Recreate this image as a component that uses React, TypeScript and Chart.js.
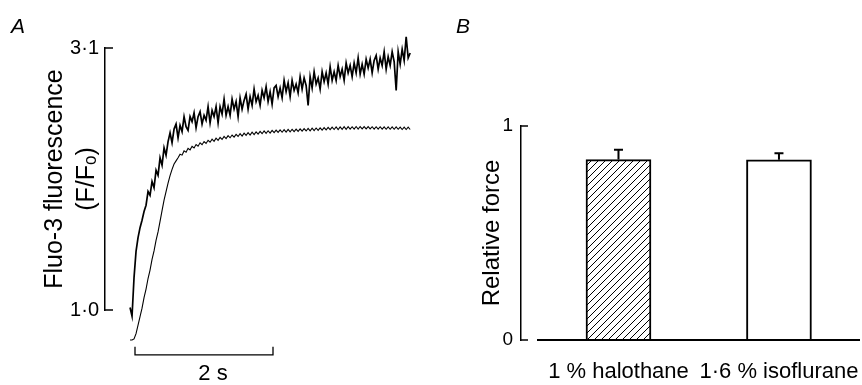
import React, { useEffect, useRef } from "react";
import { Chart, registerables } from "chart.js";

Chart.register(...registerables);

const FONT = "'Liberation Sans', Arial, Helvetica, sans-serif";

// ---------- Panel A : Fluo-3 fluorescence and force traces ----------
const PANEL_A_LETTER = "A";
const FLUO_TITLE = ["Fluo-3 fluorescence", "(F/F\u2092)"];
const FLUO_TICKS = [1.0, 3.1];
const FLUO_TICK_LABELS = ["1\u00b70", "3\u00b71"];
const SAMPLE_T0 = -0.072; // s, first sample
const SAMPLE_DT = 0.029; // s, sample interval
const FLUO = [
  1.02, 0.95, 1.26, 1.47, 1.58, 1.66, 1.72, 1.79, 1.84, 1.95,
  1.92, 2.03, 1.98, 2.12, 2.08, 2.22, 2.16, 2.3, 2.24, 2.35,
  2.42, 2.34, 2.45, 2.49, 2.38, 2.48, 2.43, 2.55, 2.47, 2.44,
  2.55, 2.51, 2.58, 2.46, 2.55, 2.59, 2.49, 2.56, 2.52, 2.63,
  2.5, 2.6, 2.55, 2.63, 2.5, 2.63, 2.57, 2.69, 2.56, 2.63,
  2.56, 2.69, 2.61, 2.67, 2.55, 2.7, 2.61, 2.68, 2.73, 2.61,
  2.71, 2.64, 2.77, 2.67, 2.72, 2.64, 2.76, 2.7, 2.79, 2.67,
  2.75, 2.65, 2.78, 2.8, 2.71, 2.78, 2.7, 2.84, 2.75, 2.82,
  2.71, 2.84, 2.76, 2.81, 2.74, 2.87, 2.77, 2.86, 2.8, 2.64,
  2.87, 2.78, 2.91, 2.81, 2.86, 2.77, 2.91, 2.83, 2.9, 2.81,
  2.95, 2.84, 2.91, 2.84, 2.96, 2.87, 2.93, 2.84, 2.98, 2.9,
  2.96, 2.87, 2.98, 2.9, 3.02, 2.89, 2.97, 2.89, 3.01, 2.94,
  3.01, 2.9, 3.0, 3.04, 2.93, 3.02, 2.96, 3.07, 2.93, 3.03,
  2.96, 3.07, 2.99, 2.76, 3.07, 2.97, 3.09, 3.0, 3.19, 3.02,
  3.06,
];
// force, normalised to the plateau (no axis drawn)
const FORCE = [
  0, 0, 0.005, 0.03, 0.07, 0.11, 0.15, 0.2, 0.24, 0.29,
  0.33, 0.38, 0.42, 0.47, 0.51, 0.56, 0.61, 0.66, 0.7, 0.74,
  0.775, 0.805, 0.83, 0.845, 0.86, 0.876, 0.872, 0.892, 0.886, 0.904,
  0.897, 0.914, 0.906, 0.922, 0.914, 0.93, 0.921, 0.936, 0.927, 0.942,
  0.933, 0.947, 0.937, 0.952, 0.942, 0.956, 0.946, 0.96, 0.95, 0.964,
  0.954, 0.967, 0.957, 0.97, 0.96, 0.973, 0.962, 0.976, 0.965, 0.978,
  0.967, 0.98, 0.969, 0.982, 0.971, 0.984, 0.973, 0.986, 0.975, 0.987,
  0.976, 0.989, 0.978, 0.99, 0.979, 0.991, 0.98, 0.992, 0.981, 0.993,
  0.982, 0.994, 0.983, 0.995, 0.984, 0.996, 0.985, 0.997, 0.986, 0.998,
  0.987, 0.999, 0.988, 1.0, 0.989, 1.001, 0.99, 1.002, 0.991, 1.003,
  0.992, 1.004, 0.993, 1.005, 0.993, 1.005, 0.994, 1.006, 0.994, 1.006,
  0.995, 1.006, 0.995, 1.007, 0.995, 1.007, 0.996, 1.007, 0.996, 1.007,
  0.996, 1.006, 0.995, 1.006, 0.995, 1.006, 0.995, 1.005, 0.994, 1.005,
  0.994, 1.005, 0.994, 1.005, 0.994, 1.004, 0.993, 1.004, 0.993, 1.004,
  0.993,
];
const TIME_BAR_T = [0, 2]; // s
const TIME_BAR_LEVEL = 0.64; // drawn below the trace, in fluorescence units
const TIME_BAR_TICK = 0.705;
const TIME_BAR_LABEL = "2 s";
const TIME_BAR_LABEL_T = 1.13;

// ---------- Panel B : relative force bars ----------
const PANEL_B_LETTER = "B";
const CATEGORIES = ["1 % halothane", "1\u00b76 % isoflurane"];
const BAR_POSITIONS = [1, 2];
const REL_FORCE = [0.843, 0.842];
const REL_FORCE_SEM = [0.046, 0.031];
const FORCE_TICKS = [0, 1];
const FORCE_TICK_LABELS = ["0", "1"];
const FORCE_TITLE = "Relative force";

function makeHatch(): CanvasPattern | string {
  const c = document.createElement("canvas");
  c.width = 7;
  c.height = 7;
  const g = c.getContext("2d");
  if (!g) return "#fff";
  g.fillStyle = "#fff";
  g.fillRect(0, 0, 7, 7);
  g.strokeStyle = "#000";
  g.lineWidth = 1;
  g.beginPath();
  g.moveTo(0, 7);
  g.lineTo(7, 0);
  g.moveTo(-1, 1);
  g.lineTo(1, -1);
  g.moveTo(6, 8);
  g.lineTo(8, 6);
  g.stroke();
  return g.createPattern(c, "repeat") || "#fff";
}

const panelAPlugin = {
  id: "panelA",
  afterDraw(chart: any) {
    const { ctx, chartArea, scales } = chart;
    const x = scales.x;
    const y = scales.y;
    ctx.save();
    ctx.strokeStyle = "#000";
    ctx.lineWidth = 1.5;
    FLUO_TICKS.forEach((v) => {
      const py = y.getPixelForValue(v);
      ctx.beginPath();
      ctx.moveTo(chartArea.left, py);
      ctx.lineTo(chartArea.left + 8, py);
      ctx.stroke();
    });
    ctx.fillStyle = "#000";
    ctx.font = `22px ${FONT}`;
    ctx.textAlign = "center";
    ctx.textBaseline = "alphabetic";
    ctx.fillText(TIME_BAR_LABEL, x.getPixelForValue(TIME_BAR_LABEL_T), chartArea.bottom + 70);
    ctx.font = `italic 21px ${FONT}`;
    ctx.textAlign = "left";
    ctx.fillText(PANEL_A_LETTER, 11, 33);
    ctx.restore();
  },
};

const panelBPlugin = {
  id: "panelB",
  afterDatasetsDraw(chart: any) {
    const { ctx, chartArea, scales } = chart;
    const x = scales.x;
    const y = scales.y;
    ctx.save();
    ctx.strokeStyle = "#000";
    ctx.lineWidth = 2;
    REL_FORCE.forEach((v, i) => {
      const px = x.getPixelForValue(BAR_POSITIONS[i]);
      const top = y.getPixelForValue(v + REL_FORCE_SEM[i]);
      const bot = y.getPixelForValue(v);
      ctx.beginPath();
      ctx.moveTo(px, bot);
      ctx.lineTo(px, top);
      ctx.moveTo(px - 4.5, top);
      ctx.lineTo(px + 4.5, top);
      ctx.stroke();
    });
    const y0 = y.getPixelForValue(0);
    ctx.beginPath();
    ctx.moveTo(chartArea.left + 16, y0);
    ctx.lineTo(chartArea.right, y0);
    ctx.stroke();
    ctx.lineWidth = 1.5;
    FORCE_TICKS.forEach((v) => {
      const py = y.getPixelForValue(v);
      ctx.beginPath();
      ctx.moveTo(chartArea.left, py);
      ctx.lineTo(chartArea.left + 7, py);
      ctx.stroke();
    });
    ctx.fillStyle = "#000";
    ctx.font = `italic 21px ${FONT}`;
    ctx.textAlign = "left";
    ctx.textBaseline = "alphabetic";
    ctx.fillText(PANEL_B_LETTER, 26, 33);
    ctx.restore();
  },
};

export default function App() {
  const refA = useRef<HTMLCanvasElement>(null);
  const refB = useRef<HTMLCanvasElement>(null);

  useEffect(() => {
    if (!refA.current || !refB.current) return;
    Chart.defaults.font.family = FONT;
    Chart.defaults.color = "#000";

    const fluoPts = FLUO.map((v, i) => ({ x: SAMPLE_T0 + i * SAMPLE_DT, y: v }));
    const forcePts = FORCE.map((v, i) => ({ x: SAMPLE_T0 + i * SAMPLE_DT, y: v }));
    const barPts = [
      { x: TIME_BAR_T[0], y: TIME_BAR_TICK },
      { x: TIME_BAR_T[0], y: TIME_BAR_LEVEL },
      { x: TIME_BAR_T[1], y: TIME_BAR_LEVEL },
      { x: TIME_BAR_T[1], y: TIME_BAR_TICK },
    ];

    const chartA = new Chart(refA.current, {
      type: "line",
      data: {
        datasets: [
          { data: fluoPts, borderColor: "#000", borderWidth: 1.7, pointRadius: 0, clip: false, yAxisID: "y" } as any,
          { data: forcePts, borderColor: "#000", borderWidth: 1.1, pointRadius: 0, clip: false, yAxisID: "yF" } as any,
          { data: barPts, borderColor: "#000", borderWidth: 1.3, pointRadius: 0, clip: false, yAxisID: "y" } as any,
        ],
      },
      options: {
        animation: false,
        responsive: false,
        events: [],
        layout: { padding: { top: 48, bottom: 75, right: 18, left: 0 } },
        plugins: { legend: { display: false }, tooltip: { enabled: false } },
        elements: { line: { tension: 0 } },
        scales: {
          x: { type: "linear", min: -0.4348, max: 4.0145, display: false },
          y: {
            type: "linear",
            position: "left",
            min: 1.0,
            max: 3.1,
            afterBuildTicks: (s: any) => {
              s.ticks = FLUO_TICKS.map((v) => ({ value: v }));
            },
            afterFit: (s: any) => {
              s.width = 105;
            },
            ticks: {
              callback: (_v: any, i: number) => FLUO_TICK_LABELS[i],
              padding: 6,
              font: { size: 20, family: FONT },
              color: "#000",
              autoSkip: false,
            },
            grid: { display: false, drawTicks: false },
            border: { display: true, color: "#000", width: 1.5 },
            title: {
              display: true,
              text: FLUO_TITLE,
              color: "#000",
              font: { size: 25, family: FONT, lineHeight: 1.28 },
              padding: { top: 39, bottom: 0 },
            },
          },
          yF: { type: "linear", display: false, min: 0.1415, max: 1.3774 },
        },
      } as any,
      plugins: [panelAPlugin],
    });

    const hatch = makeHatch();
    const chartB = new Chart(refB.current, {
      type: "bar",
      data: {
        datasets: [
          {
            data: REL_FORCE.map((v, i) => ({ x: BAR_POSITIONS[i], y: v })),
            backgroundColor: [hatch, "#fff"],
            borderColor: "#000",
            borderWidth: 2,
            borderSkipped: "start",
            barThickness: 65,
          } as any,
        ],
      },
      options: {
        animation: false,
        responsive: false,
        events: [],
        layout: { padding: { top: 126, right: 2, left: 0, bottom: 0 } },
        plugins: { legend: { display: false }, tooltip: { enabled: false } },
        scales: {
          x: {
            type: "linear",
            offset: false,
            min: 0.3925,
            max: 2.505,
            afterBuildTicks: (s: any) => {
              s.ticks = BAR_POSITIONS.map((v) => ({ value: v }));
            },
            afterFit: (s: any) => {
              s.height = 45;
              s.paddingLeft = 0;
              s.paddingRight = 0;
            },
            ticks: {
              callback: (_v: any, i: number) => CATEGORIES[i],
              padding: 19,
              font: { size: 22, family: FONT },
              color: "#000",
              autoSkip: false,
              maxRotation: 0,
            },
            grid: { display: false, drawTicks: false },
            border: { display: false },
          },
          y: {
            type: "linear",
            min: 0,
            max: 1,
            afterBuildTicks: (s: any) => {
              s.ticks = FORCE_TICKS.map((v) => ({ value: v }));
            },
            afterFit: (s: any) => {
              s.width = 91;
            },
            ticks: {
              callback: (_v: any, i: number) => FORCE_TICK_LABELS[i],
              padding: 8,
              font: { size: 19, family: FONT },
              color: "#000",
              autoSkip: false,
            },
            grid: { display: false, drawTicks: false },
            border: { display: true, color: "#000", width: 1.5 },
            title: {
              display: true,
              text: FORCE_TITLE,
              color: "#000",
              font: { size: 24, family: FONT, lineHeight: 1.2 },
              padding: { top: 48, bottom: 0 },
            },
          },
        },
      } as any,
      plugins: [panelBPlugin],
    });

    return () => {
      chartA.destroy();
      chartB.destroy();
    };
  }, []);

  return (
    <div style={{ position: "fixed", left: 0, top: 0, width: 862, height: 385, background: "#fff" }}>
      <canvas ref={refA} width={430} height={385} style={{ position: "absolute", left: 0, top: 0 }} />
      <canvas ref={refB} width={432} height={385} style={{ position: "absolute", left: 430, top: 0 }} />
    </div>
  );
}
